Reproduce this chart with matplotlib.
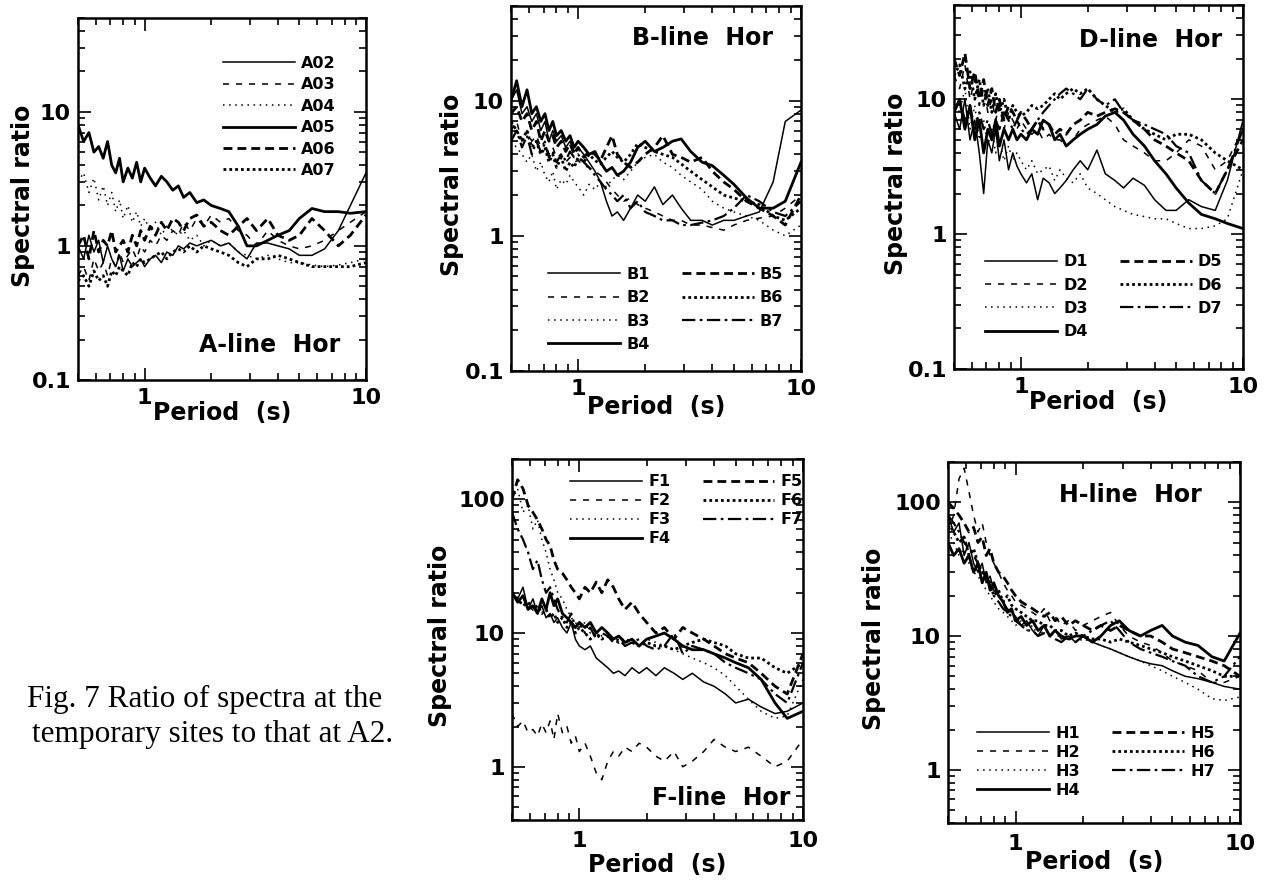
import matplotlib
matplotlib.use("Agg")
import numpy as np
import matplotlib.pyplot as plt
from matplotlib.ticker import FixedLocator, FixedFormatter, LogLocator, NullFormatter

# ---------------- data ----------------
period = [0.50, 0.53, 0.56, 0.59, 0.62, 0.65, 0.68, 0.71, 0.74, 0.77,
          0.80, 0.84, 0.88, 0.92, 0.96, 1.00, 1.06, 1.12, 1.19, 1.26,
          1.34, 1.42, 1.50, 1.60, 1.72, 1.85, 2.0, 2.2, 2.4, 2.65,
          2.9, 3.2, 3.6, 4.0, 4.5, 5.0, 5.7, 6.5, 7.5, 8.5, 10.0]

# A-line
A02 = [1.0,0.8,1.2,0.9,1.1,0.75,1.0,0.8,0.7,0.85, 0.65,0.8,0.7,0.75,0.8,0.7,0.8,0.85,0.75,0.9,
       0.85,1.0,0.95,1.05,1.0,1.05,1.1,1.0,1.05,0.9, 0.8,1.05,1.05,1.0,0.95,0.85,0.85,0.95,1.3,2.0, 3.5]
A03 = [0.6,0.7,0.55,0.8,0.65,0.75,0.6,0.8,0.7,0.9, 0.75,0.85,0.95,0.8,1.0,0.9,1.1,1.0,1.2,1.1,
       1.3,1.2,1.5,1.3,1.6,1.4,1.7,1.5,1.6,1.3, 1.2,1.0,1.3,1.1,1.0,0.95,1.0,1.1,1.3,1.5, 1.8]
A04 = [3.0,3.5,2.5,3.2,2.2,2.8,2.0,2.5,1.8,2.2, 1.6,2.0,1.5,1.8,1.4,1.6,1.3,1.5,1.2,1.4,
       1.3,1.2,1.3,1.1,1.2,1.0,1.1,1.0,1.05,0.9, 0.85,0.8,0.85,0.8,0.75,0.75,0.72,0.7,0.72,0.75, 0.8]
A05 = [8.0,6.0,7.0,5.0,5.5,4.5,6.0,4.0,3.5,4.5, 3.0,3.8,3.2,4.2,3.0,3.8,3.2,2.8,3.3,3.0,
       2.6,2.8,2.3,2.5,2.1,2.2,2.0,1.9,1.8,1.4, 1.0,1.0,1.1,1.2,1.3,1.6,1.9,1.8,1.8,1.75, 1.8]
A06 = [1.0,1.2,0.8,1.3,0.9,1.1,1.0,1.3,0.9,1.0, 1.1,0.9,1.2,1.0,1.3,1.1,1.4,1.2,1.5,1.3,
       1.6,1.5,1.3,1.6,1.7,1.4,1.5,1.3,1.2,1.4, 1.6,1.3,1.6,1.2,1.1,1.2,1.6,1.3,1.0,1.2, 1.7]
A07 = [0.55,0.6,0.5,0.65,0.55,0.6,0.5,0.65,0.6,0.7, 0.65,0.6,0.75,0.7,0.8,0.75,0.8,0.85,0.9,0.8,
       0.9,0.95,0.9,1.0,0.9,1.0,0.95,0.9,0.85,0.75, 0.7,0.8,0.8,0.85,0.8,0.75,0.7,0.7,0.7,0.7, 0.75]

# B-line
B1 = [10,12,8,9,7,8,6,7,5,6, 5,5.5,4.5,5,4.2,4.5,4,3.5,3,2.5,
      1.8,1.4,1.5,1.3,1.6,2.0,1.8,2.3,1.7,2.0, 1.6,1.3,1.3,1.2,1.3,1.3,1.4,1.5,2.5,7.0, 8.5]
B2 = [6,7,5,6,5,5.5,4.5,5,4,4.5, 3.8,4,3.5,3.8,3.5,3.6,3.3,3.2,3,2.8,
      2.5,2.2,2.0,1.8,1.9,1.7,1.6,1.5,1.4,1.3, 1.3,1.2,1.2,1.15,1.1,1.2,1.3,1.35,1.4,1.6, 2.0]
B3 = [5,4.5,4,3.5,4,3,3.5,2.8,2.5,3, 2.2,2.6,2.4,2.8,2.5,2.3,2.0,2.4,2.2,2.5,
      2.3,2.6,2.8,2.6,3.0,3.5,3.8,4.0,3.5,3.2, 2.8,2.5,2.2,1.8,1.6,1.5,1.4,1.3,1.1,1.0, 1.2]
B4 = [10,14,9,12,8,9,7,8,6,7, 5.5,6,5,5.5,4.5,5,4.5,4,4.2,3.5,
      3.0,3.2,2.8,3.0,3.5,4.5,5.0,4.2,4.5,5.0, 5.2,4.2,3.5,3.3,2.8,2.4,1.9,1.6,1.6,1.8, 3.5]
B5 = [8,9,7,8,6,7,5,6,5,5.5, 4.5,5,4.2,4.8,4.0,4.5,3.8,4.2,4.0,3.6,
      4.5,5.5,4.0,3.5,3.2,3.5,4.0,4.5,5.5,4.0, 3.8,3.5,3.8,3.0,2.5,2.2,1.8,1.6,1.4,1.2, 2.0]
B6 = [7,6,5,6,4.5,5,4,4.5,3.5,4, 3.2,3.8,3.0,3.5,3.2,3.8,3.5,4.0,3.6,3.4,
      3.8,4.2,3.8,3.5,4.0,4.8,4.5,4.2,4.0,3.8, 3.4,3.0,2.6,2.3,2.0,1.9,1.8,1.7,1.4,1.3, 1.6]
B7 = [5,6,4.5,5.5,4,5,4.2,4.8,3.8,4.2, 3.5,4,3.6,4.2,3.8,4.0,3.5,3.2,2.8,2.5,
      2.2,2.0,1.8,2.0,1.6,1.8,1.5,1.4,1.3,1.3, 1.2,1.2,1.25,1.3,1.4,1.6,2.0,1.8,1.5,1.4, 1.8]

# D-line
D1 = [8,6,10,5,7,4,2,5,4,6, 3.5,5,3,4,3.2,2.8,2.4,2.8,1.8,2.6,
      2.4,2.0,2.2,2.5,3.0,3.5,3.0,4.2,2.8,2.5, 2.2,2.6,2.3,1.8,1.5,1.5,1.8,1.6,1.5,2.5, 7.0]
D2 = [15,12,18,10,14,9,12,8,10,7, 9,6,8,7,6,7,6,5.5,6,5,
      5.5,5,5,4.5,5,6,6.5,7,7.5,6.5, 5,4.5,4.0,3.5,3.5,4.0,5.0,4.5,3.0,3.5, 6]
D3 = [10,8,12,6,9,5,7,4.5,6,4, 5,3.5,4.5,3.5,4,3.5,3.0,3.5,2.8,3.0,
      3.2,2.5,3.0,2.6,2.4,2.8,2.2,2.0,1.8,1.6, 1.5,1.4,1.35,1.3,1.3,1.2,1.1,1.1,1.15,1.3, 3]
D4 = [8,10,6,9,5,7,4,6,5,7, 4.5,6,5,6,5,5.5,5,6,5.5,7,
      6.5,5,5.5,4.5,5,5.5,6,6.5,7.5,8, 7,5.5,4.5,3.5,2.8,2.2,1.7,1.4,1.3,1.2, 1.1]
D5 = [20,15,22,12,16,10,14,9,12,8, 10,7,9,8,7,8,7,6,7,6,
      6.5,5.5,6,5.5,6.5,7,8,7.5,8,8.5, 8.0,7.0,6.0,5.0,4.5,4.0,3.5,2.5,2.0,3.0, 5.0]
D6 = [15,18,12,16,10,14,9,12,8,11, 8,10,7,9,8,7.5,8,9,8.5,9,
      10,11,10,11,12,11,12,10,9,8, 8.5,7,6,5.5,5,5.5,5.5,5,4,3.5, 3]
D7 = [8,10,7,9,6,8,6,7,5.5,7, 6,8,7,6,7,6,5.5,6,7,8,
      9,10,11,12,11,10,12,10,9,10, 8,7,6.5,6,5.5,4.5,4,2.5,2.0,3, 6]

# F-line
F1 = [20,18,22,15,18,14,16,13,14,12, 13,11,10,12,9,8,7.5,8,6.5,6,
      5.5,5,5.2,4.8,5.5,5.0,5.5,4.8,5.5,5.0, 4.5,5.0,4.3,4.0,3.5,3.0,3.2,2.8,2.5,2.6, 3.0]
F2 = [2.5,2.0,2.2,1.8,1.9,1.7,2.1,1.8,2.2,1.6, 2.5,1.8,2.0,1.5,1.7,1.3,1.5,1.2,0.9,0.8,
      1.1,1.3,1.2,1.4,1.3,1.5,1.4,1.2,1.1,1.3, 1.0,1.1,1.3,1.6,1.4,1.3,1.4,1.2,1.0,1.1, 1.6]
F3 = [100,120,80,90,60,70,50,40,30,25, 20,18,15,13,12,11,12,10,11,9.5,
      10,9,9.5,8.5,9,8,9,8.5,8,7.5, 7,6.5,6,5.5,4.8,4.0,3.2,2.6,2.3,2.4, 4.5]
F4 = [20,17,19,15,16,14,18,15,20,16, 18,14,13,12,11,12,11,12,10,11,
      10,9,9.5,8.5,9,8,9,9.5,10,9, 8,7.5,7.5,7,6.5,6.0,5.5,4.5,3.0,2.3, 2.6]
F5 = [100,140,120,90,80,70,60,50,45,35, 30,28,25,22,20,18,22,20,24,20,
      25,22,18,15,17,14,12,10,11,9, 11,10,9,8,7,6.5,6,5,4,3.5, 7]
F6 = [20,18,16,17,15,16,14,15,13,14, 12,13,11,12,10,11,10,9,10,9,
      9.5,9,8.5,9,8.5,8,8.5,8,8,7.5, 8,8.5,9,8.5,8,7,6.5,6.5,5.5,5, 6]
F7 = [80,60,50,40,30,35,25,20,22,18, 15,13,12,14,11,12,10,11,9,10,
      9.5,8.5,9,8,8.5,9,8,7.5,8,10, 7,8,7.5,7,6,5.5,5,4.5,3.5,3.0, 6]

# H-line
H1 = [80,60,70,40,50,35,30,35,25,28, 22,20,18,16,15,14,12,13,11,10,
      12,10,11,9.5,10,9,10,9,8.5,8, 7.5,7,6.5,6.2,6,5.5,5,4.8,4.5,4.2, 4.0]
H2 = [60,80,150,180,120,80,60,70,50,40, 35,30,25,22,20,18,17,16,15,14,
      16,13,14,12,13,11,12,13,14,15, 12,10,9,8.5,7.5,6.5,6,5.5,4.5,4.5, 5]
H3 = [60,50,40,45,35,30,28,25,22,20, 18,16,15,14,13,12,13,11,12,10,
      11,10.5,10,10,9.5,9,9.5,9,8.5,8, 7.5,7,6.5,6,5.5,5,4.5,4,3.4,3.3, 3.5]
H4 = [50,40,45,35,40,30,35,25,30,22, 25,20,18,15,16,13,14,12,13,11,
      12,10,11,10,9.5,10,10,9,10,12, 13,11,10,11,12,10,9,8.5,7,6.5, 10.5]
H5 = [100,90,80,70,60,65,50,55,40,45, 35,30,28,25,22,20,18,17,16,15,
      14,15,13,14,12,13,12,11,12,11, 12,11,10,10,9,8,7.5,7,6.5,6, 5]
H6 = [70,60,50,55,40,45,35,30,28,25, 20,22,18,20,17,16,15,14,13,13,
      12,12,11,11,10,10.5,10,9.5,9.5,9, 9.5,9,8.5,8,7.5,7,6.5,6,5.5,5, 5]
H7 = [80,70,60,50,45,40,35,30,28,24, 20,18,16,15,14,13,12,11,11,10,
      10.5,10,9.5,9,10,9,10,11,12,13, 11,9,8,7.5,7,6.5,6,5,4.5,5, 7]

A_labels = ["A02", "A03", "A04", "A05", "A06", "A07"]
B_labels = ["B1", "B2", "B3", "B4", "B5", "B6", "B7"]
D_labels = ["D1", "D2", "D3", "D4", "D5", "D6", "D7"]
F_labels = ["F1", "F2", "F3", "F4", "F5", "F6", "F7"]
H_labels = ["H1", "H2", "H3", "H4", "H5", "H6", "H7"]

x_ticks = [1, 10]
x_ticklabels = ["1", "10"]
y_ticks_top = [0.1, 1, 10]
y_ticklabels_top = ["0.1", "1", "10"]
y_ticks_bot = [1, 10, 100]
y_ticklabels_bot = ["1", "10", "100"]

caption_lines = ["Fig. 7 Ratio of spectra at the", "temporary sites to that at A2."]

# ---------------- styling ----------------
plt.rcParams["font.family"] = ["DejaVu Sans"]
plt.rcParams["font.weight"] = "bold"
plt.rcParams["axes.labelweight"] = "bold"

styles = [
    dict(lw=1.1, ls="-"),
    dict(lw=1.1, ls=(0, (4.0, 4.5))),
    dict(lw=1.1, ls=(0, (1.0, 3.0))),
    dict(lw=2.0, ls="-"),
    dict(lw=2.0, ls=(0, (3.2, 1.8))),
    dict(lw=2.0, ls=(0, (1.0, 1.1))),
    dict(lw=1.6, ls=(0, (6.0, 2.0, 1.2, 2.0))),
]

W, H = 1267, 884
fig = plt.figure(figsize=(W / 100, H / 100), dpi=100)


def rect(l, t, r, b):
    return [l / W, 1 - b / H, (r - l) / W, (b - t) / H]


panels = [
    dict(rect=rect(78, 18, 366, 380), series=[A02, A03, A04, A05, A06, A07], labels=A_labels,
         ylim=(0.1, 50), yt=y_ticks_top, ytl=y_ticklabels_top, title="A-line  Hor",
         title_xy=(0.91, 0.077), ncol=1, leg_xy=(0.503, 0.895), lsp=0.4,
         ylab_x=-0.191, xlab_y=-0.058, xpad=5.5),
    dict(rect=rect(511, 6, 801, 371), series=[B1, B2, B3, B4, B5, B6, B7], labels=B_labels,
         ylim=(0.1, 50), yt=y_ticks_top, ytl=y_ticklabels_top, title="B-line  Hor",
         title_xy=(0.903, 0.893), ncol=2, leg_xy=(0.128, 0.285), lsp=0.52,
         ylab_x=-0.203, xlab_y=-0.066, xpad=5.5),
    dict(rect=rect(954, 5, 1243, 369), series=[D1, D2, D3, D4, D5, D6, D7], labels=D_labels,
         ylim=(0.1, 50), yt=y_ticks_top, ytl=y_ticklabels_top, title="D-line  Hor",
         title_xy=(0.927, 0.885), ncol=2, leg_xy=(0.107, 0.315), lsp=0.52,
         ylab_x=-0.20, xlab_y=-0.058, xpad=5.5),
    dict(rect=rect(512, 459, 803, 820), series=[F1, F2, F3, F4, F5, F6, F7], labels=F_labels,
         ylim=(0.4, 200), yt=y_ticks_bot, ytl=y_ticklabels_bot, title="F-line  Hor",
         title_xy=(0.955, 0.042), ncol=2, leg_xy=(0.20, 0.958), lsp=0.25,
         ylab_x=-0.247, xlab_y=-0.091, xpad=8),
    dict(rect=rect(948, 462, 1240, 823), series=[H1, H2, H3, H4, H5, H6, H7], labels=H_labels,
         ylim=(0.4, 200), yt=y_ticks_bot, ytl=y_ticklabels_bot, title="H-line  Hor",
         title_xy=(0.87, 0.889), ncol=2, leg_xy=(0.10, 0.27), lsp=0.25,
         ylab_x=-0.253, xlab_y=-0.075, xpad=8),
]

for p in panels:
    ax = fig.add_axes(p["rect"])
    for vals, lab, st in zip(p["series"], p["labels"], styles):
        assert len(vals) == len(period)
        ax.plot(period, vals, color="black", linewidth=st["lw"], linestyle=st["ls"], label=lab)
    ax.set_xscale("log")
    ax.set_yscale("log")
    ax.set_xlim(0.5, 10)
    ax.set_ylim(*p["ylim"])
    ax.xaxis.set_major_locator(FixedLocator(x_ticks))
    ax.xaxis.set_major_formatter(FixedFormatter(x_ticklabels))
    ax.xaxis.set_minor_locator(LogLocator(base=10, subs=np.arange(2, 10), numticks=20))
    ax.xaxis.set_minor_formatter(NullFormatter())
    ax.yaxis.set_major_locator(FixedLocator(p["yt"]))
    ax.yaxis.set_major_formatter(FixedFormatter(p["ytl"]))
    ax.yaxis.set_minor_locator(LogLocator(base=10, subs=np.arange(2, 10), numticks=20))
    ax.yaxis.set_minor_formatter(NullFormatter())
    ax.tick_params(which="both", direction="in", top=True, right=True, width=1.2)
    ax.tick_params(which="major", length=9, labelsize=16)
    ax.tick_params(which="minor", length=5)
    ax.tick_params(axis="y", which="major", pad=5)
    ax.tick_params(axis="x", which="major", pad=p["xpad"])
    for lbl in ax.get_xticklabels() + ax.get_yticklabels():
        lbl.set_fontweight("bold")
    for s in ax.spines.values():
        s.set_linewidth(1.8)

    ax.set_ylabel("Spectral ratio", fontsize=17, fontweight="bold")
    ax.yaxis.label.set_va("center")
    ax.yaxis.set_label_coords(p["ylab_x"], 0.51)
    ax.set_xlabel("Period  (s)", fontsize=17, fontweight="bold")
    ax.xaxis.set_label_coords(0.5, p["xlab_y"])

    ax.text(p["title_xy"][0], p["title_xy"][1], p["title"], transform=ax.transAxes,
            ha="right", va="baseline", fontsize=17, fontweight="bold")

    leg = ax.legend(loc="upper left", bbox_to_anchor=p["leg_xy"], ncol=p["ncol"],
                    frameon=False, fontsize=11.5, handlelength=4.5, handletextpad=0.4,
                    labelspacing=p["lsp"], columnspacing=2.0, borderpad=0, borderaxespad=0)
    for t in leg.get_texts():
        t.set_fontweight("bold")

fig.text(27 / W, 1 - 707 / H, caption_lines[0], family="Liberation Serif", fontsize=22.5,
         fontweight="normal", ha="left", va="baseline")
fig.text(32 / W, 1 - 742 / H, caption_lines[1], family="Liberation Serif", fontsize=22.5,
         fontweight="normal", ha="left", va="baseline")

fig.savefig("out.png", dpi=100, facecolor="white")
